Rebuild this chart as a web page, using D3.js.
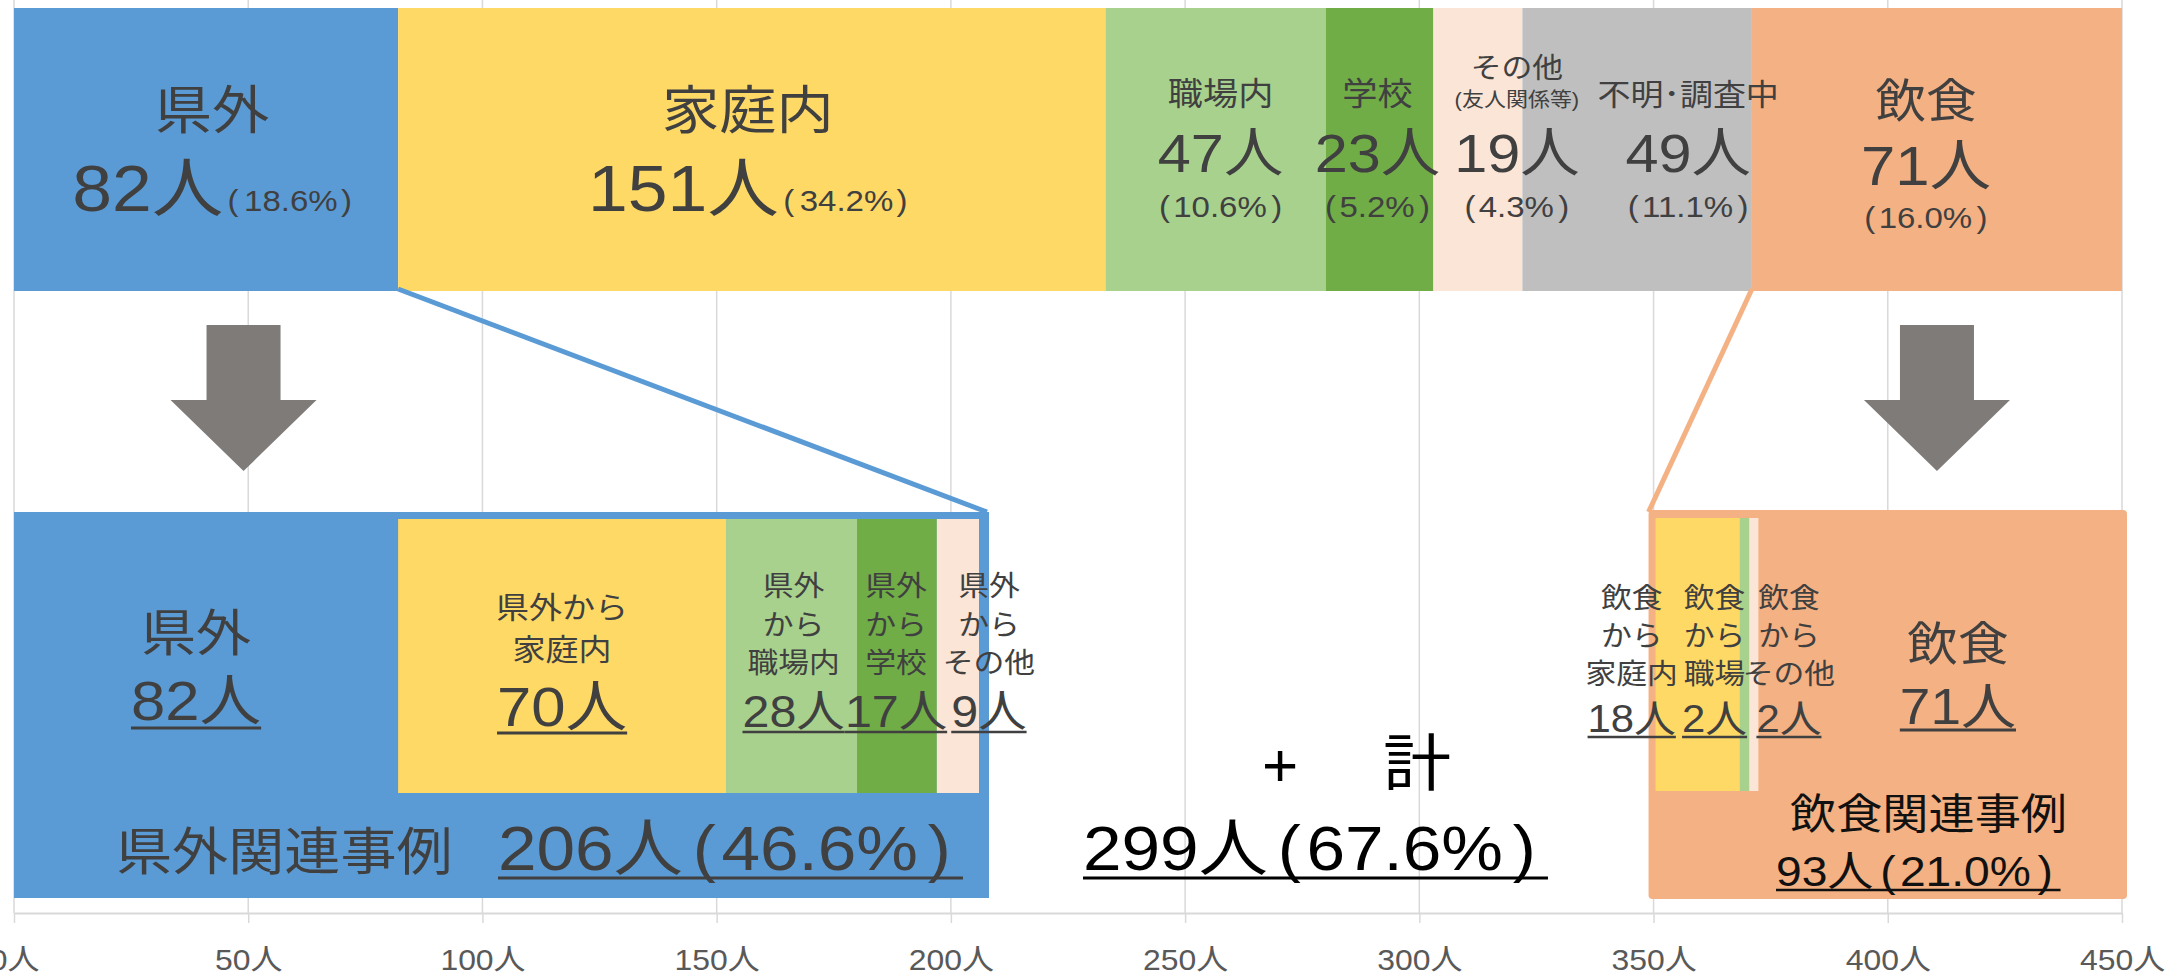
<!DOCTYPE html>
<html lang="ja">
<head>
<meta charset="utf-8">
<script src="https://cdn.jsdelivr.net/npm/d3@7"></script>
<style>
  html, body { margin: 0; padding: 0; background: #fff; }
  svg text { font-family: "Liberation Sans", "Noto Sans CJK JP", sans-serif; }
</style>
</head>
<body>
<div id="chart"></div>
<script>
// 感染経路別（上段）
const topCategories = ['県外', '家庭内', '職場内', '学校', 'その他', '不明･調査中', '飲食'];
const topValues = [82, 151, 47, 23, 19, 49, 71];
const topPercents = ['18.6%', '34.2%', '10.6%', '5.2%', '4.3%', '11.1%', '16.0%'];
const topSubtitles = ['', '', '', '', '(友人関係等)', '', ''];

// 県外関連事例の内訳
const kengaiCategories = ['県外', '県外から家庭内', '県外から職場内', '県外から学校', '県外からその他'];
const kengaiLines = [['県外'], ['県外から', '家庭内'], ['県外', 'から', '職場内'], ['県外', 'から', '学校'], ['県外', 'から', 'その他']];
const kengaiValues = [82, 70, 28, 17, 9];

// 飲食関連事例の内訳
const inshokuCategories = ['飲食から家庭内', '飲食から職場', '飲食からその他', '飲食'];
const inshokuLines = [['飲食', 'から', '家庭内'], ['飲食', 'から', '職場'], ['飲食', 'から', 'その他'], ['飲食']];
const inshokuValues = [18, 2, 2, 71];

// 合計
const summaryNames = ['県外関連事例', '計', '飲食関連事例'];
const summaryValues = [206, 299, 93];
const summaryPercents = ['46.6%', '67.6%', '21.0%'];

const xTicks = [0, 50, 100, 150, 200, 250, 300, 350, 400, 450];

const colors = {
  blue: '#5B9BD5', yellow: '#FFD966', lgreen: '#A9D18E', dgreen: '#70AD47',
  peach: '#FBE5D6', gray: '#BFBFBF', orange: '#F4B183'
};
const topColors = [colors.blue, colors.yellow, colors.lgreen, colors.dgreen, colors.peach, colors.gray, colors.orange];
const kengaiColors = [colors.blue, colors.yellow, colors.lgreen, colors.dgreen, colors.peach];
const inshokuColors = [colors.yellow, colors.lgreen, colors.peach, colors.orange];

const TEXT = '#404040';
const SX = 1.1;           // text is drawn slightly wide, as in the original
const width = 2170, height = 976;
const axisY = 913;
const inshokuOffset = 350;

function stack(values, offset) {
  let acc = offset || 0;
  return values.map(v => { const s = acc; acc += v; return [s, acc]; });
}

// "206人(46.6%)" style pieces
function countPct(count, pct, fBig, fSmall, g) {
  return [[count + '人', fBig], ['(', fSmall, g[0]], [pct, fSmall, g[1]], [')', fSmall, g[2]]];
}

function draw() {
  const svg = d3.select('#chart').append('svg')
    .attr('width', width).attr('height', height);

  const x = d3.scaleLinear().domain([0, 450]).range([14, 2122]);

  // grid
  svg.append('g').selectAll('line').data(xTicks).enter().append('line')
    .attr('x1', d => x(d)).attr('x2', d => x(d))
    .attr('y1', 0).attr('y2', axisY)
    .attr('stroke', '#d9d9d9').attr('stroke-width', 1.5);

  const axis = svg.append('g').attr('transform', `translate(0,${axisY})`)
    .call(d3.axisBottom(x).tickValues(xTicks).tickSize(10).tickSizeOuter(0)
      .tickFormat(d => d + '人'));
  axis.attr('font-family', null);
  axis.select('.domain').attr('stroke', '#d9d9d9').attr('stroke-width', 2);
  axis.selectAll('.tick line').attr('stroke', '#d9d9d9').attr('stroke-width', 1.5);
  axis.selectAll('.tick text').attr('font-size', 29).attr('fill', '#595959')
    .attr('y', 57).attr('dy', 0)
    .attr('transform', `scale(${SX},1)`);

  function addText(cx, y, parts, opts) {
    opts = opts || {};
    const g = svg.append('g').attr('transform', `translate(${cx},${y}) scale(${SX},1)`);
    const t = g.append('text')
      .attr('text-anchor', opts.anchor || 'middle')
      .attr('fill', opts.color || TEXT);
    parts.forEach(p => {
      const s = t.append('tspan').attr('font-size', p[1]).text(p[0]);
      if (p[2]) s.attr('dx', p[2]);
    });
    if (opts.underline) {
      const b = t.node().getBBox();
      g.append('line').attr('x1', b.x).attr('x2', b.x + b.width + (opts.ext || 0))
        .attr('y1', opts.underline).attr('y2', opts.underline)
        .attr('stroke', opts.color || TEXT).attr('stroke-width', opts.uw || 3);
    }
    return t;
  }

  // ---- top bar ----
  const topY0 = 8, topY1 = 291;
  const topSpans = stack(topValues);
  svg.append('g').selectAll('rect').data(topSpans).enter().append('rect')
    .attr('x', d => x(d[0]))
    .attr('width', (d, i) => x(i === topSpans.length - 1 ? 450 : d[1]) - x(d[0]))
    .attr('y', topY0).attr('height', topY1 - topY0)
    .attr('fill', (d, i) => topColors[i]);

  const topShift = [6, -4, 5, -2, 39, 51, -11];
  topSpans.forEach((d, i) => {
    const end = i === topSpans.length - 1 ? 450 : d[1];
    const cx = (x(d[0]) + x(end)) / 2 + topShift[i];
    const name = topCategories[i];
    const pctLine = [['(', 30], [topPercents[i], 30, 3], [')', 30, 4]];
    if (i < 2) {
      addText(cx, 129, [[name, 52]]);
      addText(cx, 211, countPct(topValues[i], topPercents[i], 65, 30, [4, 5, 3]));
    } else if (i === topSpans.length - 1) {
      addText(cx, 117, [[name, 46]]);
      addText(cx, 185, [[topValues[i] + '人', 56]]);
      addText(cx, 228, pctLine);
    } else {
      if (topSubtitles[i]) {
        addText(cx, 78, [[name, 28]]);
        addText(cx, 107, [[topSubtitles[i], 20]]);
      } else {
        addText(cx, 105, [[name, i === 5 ? 30 : 32]]);
      }
      addText(cx, 172, [[topValues[i] + '人', 54]]);
      addText(cx, 217, pctLine);
    }
  });

  // ---- arrows ----
  const arrowAt = [49, 410.5];
  arrowAt.forEach(v => {
    const c = x(v);
    const pts = [[c - 37, 325], [c + 37, 325], [c + 37, 400], [c + 73, 400], [c, 471], [c - 73, 400], [c - 37, 400]];
    svg.append('path').attr('d', d3.line()(pts) + 'Z').attr('fill', '#7F7B79');
  });

  // ---- 県外関連事例 ----
  const kengaiSpans = stack(kengaiValues);
  const kengaiEnd = kengaiSpans[kengaiSpans.length - 1][1];
  svg.append('rect').attr('x', x(0)).attr('y', 512)
    .attr('width', x(kengaiEnd) + 10 - x(0)).attr('height', 898 - 512)
    .attr('fill', colors.blue);
  svg.append('line')
    .attr('x1', x(topValues[0])).attr('y1', topY1 - 2)
    .attr('x2', x(kengaiEnd) + 8).attr('y2', 512)
    .attr('stroke', colors.blue).attr('stroke-width', 5);
  svg.append('g').selectAll('rect').data(kengaiSpans).enter().append('rect')
    .attr('x', d => x(d[0])).attr('width', d => x(d[1]) - x(d[0]))
    .attr('y', 519).attr('height', 793 - 519)
    .attr('fill', (d, i) => kengaiColors[i]);

  const kengaiShift = [-10, 0, 2, -1, 31];
  kengaiSpans.forEach((d, i) => {
    const cx = (x(d[0]) + x(d[1])) / 2 + kengaiShift[i];
    const lines = kengaiLines[i];
    if (i === 0) {
      addText(cx, 651, [[lines[0], 50]]);
      addText(cx, 720, [[kengaiValues[i] + '人', 56]], { underline: 8 });
    } else if (i === 1) {
      lines.forEach((l, j) => addText(cx, 618 + j * 42, [[l, 30]]));
      addText(cx, 726, [[kengaiValues[i] + '人', 56]], { underline: 7 });
    } else {
      lines.forEach((l, j) => addText(cx, 596 + j * 38.5, [[l, 28]]));
      addText(cx, 727, [[kengaiValues[i] + '人', 44]], { underline: 5, uw: 2.5 });
    }
  });

  addText(116, 870, [[summaryNames[0], 51]], { anchor: 'start' });
  addText(498, 870, countPct(summaryValues[0], summaryPercents[0], 63, 63, [9, 5, 9]),
    { anchor: 'start', underline: 8, ext: 11 });

  // ---- 合計 ----
  const plusG = svg.append('g').attr('transform', `translate(0,786)`);
  plusG.append('text').attr('x', 1280).attr('text-anchor', 'middle').attr('fill', '#000')
    .attr('font-size', 62).text('+');
  plusG.append('text').attr('x', 1417).attr('text-anchor', 'middle').attr('fill', '#000')
    .attr('font-size', 62).attr('transform', `translate(${1417 * (1 - SX)},0) scale(${SX},1)`)
    .text(summaryNames[1]);
  addText(1083, 870, countPct(summaryValues[1], summaryPercents[1], 63, 63, [9, 5, 9]),
    { anchor: 'start', underline: 8, ext: 11, color: '#000' });

  // ---- 飲食関連事例 ----
  const inshokuSpans = stack(inshokuValues, inshokuOffset);
  svg.append('rect').attr('x', x(inshokuOffset) - 5).attr('y', 510)
    .attr('width', x(450) + 5 - (x(inshokuOffset) - 5)).attr('height', 899 - 510)
    .attr('rx', 4).attr('fill', colors.orange);
  svg.append('line')
    .attr('x1', x(d3.sum(topValues.slice(0, 6)))).attr('y1', topY1 - 2)
    .attr('x2', x(inshokuOffset) - 5).attr('y2', 512)
    .attr('stroke', colors.orange).attr('stroke-width', 5);
  svg.append('g').selectAll('rect').data(inshokuSpans).enter().append('rect')
    .attr('x', d => x(d[0]) + 2).attr('width', d => x(d[1]) - x(d[0]))
    .attr('y', 518).attr('height', 791 - 518)
    .attr('fill', (d, i) => inshokuColors[i]);

  const inshokuShift = [-64, -28, 37, 35];
  inshokuSpans.forEach((d, i) => {
    const cx = (x(d[0]) + x(d[1])) / 2 + inshokuShift[i];
    const lines = inshokuLines[i];
    if (i === inshokuSpans.length - 1) {
      addText(cx, 660, [[lines[0], 46]]);
      addText(cx, 724, [[inshokuValues[i] + '人', 50]], { underline: 6 });
    } else {
      lines.forEach((l, j) => addText(cx, 608 + j * 38, [[l, 28]]));
      addText(cx, 732, [[inshokuValues[i] + '人', 38]], { underline: 5, uw: 2.5 });
    }
  });

  addText(1790, 829, [[summaryNames[2], 42]], { anchor: 'start', color: '#111' });
  addText(1776, 886, countPct(summaryValues[2], summaryPercents[2], 42, 42, [6, 4, 6]),
    { anchor: 'start', underline: 4, uw: 2.5, ext: 7, color: '#111' });
}

document.fonts.ready.then(draw);
</script>
</body>
</html>
